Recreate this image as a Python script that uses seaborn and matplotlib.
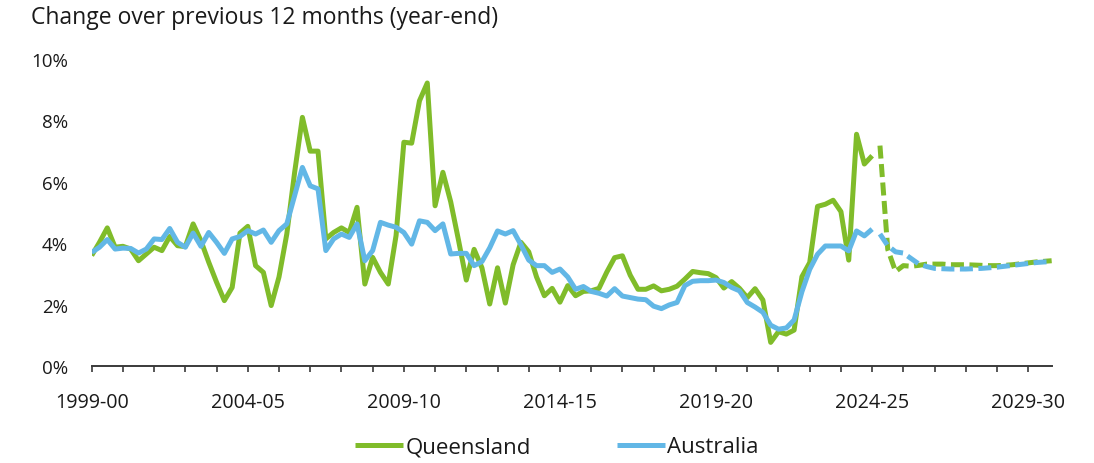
import numpy as np
import pandas as pd
import matplotlib
matplotlib.use("Agg")
import matplotlib.pyplot as plt
from matplotlib.lines import Line2D
import seaborn as sns

# Quarterly year-ended growth (%), actuals from 1999-00 through 2024-25
qld_actual = [
    3.60, 4.03, 4.50, 3.87, 3.90, 3.81, 3.43, 3.65, 3.87, 3.76,
    4.22, 3.92, 3.89, 4.63, 4.08, 3.38, 2.73, 2.13, 2.56, 4.33,
    4.55, 3.27, 3.05, 1.97, 2.90, 4.30, 6.30, 8.10, 7.00, 7.00,
    4.14, 4.35, 4.50, 4.35, 5.17, 2.67, 3.54, 3.05, 2.67, 4.25,
    7.29, 7.26, 8.64, 9.22, 5.22, 6.31, 5.35, 4.10, 2.80, 3.80,
    3.20, 2.02, 3.20, 2.05, 3.30, 4.03, 3.72, 2.90, 2.29, 2.53,
    2.08, 2.62, 2.29, 2.43, 2.45, 2.53, 3.06, 3.53, 3.59, 2.96,
    2.50, 2.50, 2.61, 2.45, 2.50, 2.60, 2.83, 3.08, 3.04, 3.01,
    2.88, 2.54, 2.75, 2.53, 2.23, 2.52, 2.15, 0.77, 1.12, 1.04,
    1.17, 2.91, 3.37, 5.20, 5.27, 5.40, 5.03, 3.45, 7.55, 6.58,
    6.85,
]
aus_actual = [
    3.70, 3.87, 4.12, 3.81, 3.84, 3.83, 3.68, 3.81, 4.14, 4.12,
    4.48, 4.03, 3.87, 4.33, 3.90, 4.35, 4.03, 3.67, 4.14, 4.22,
    4.41, 4.30, 4.43, 4.03, 4.41, 4.63, 5.55, 6.47, 5.87, 5.77,
    3.76, 4.14, 4.30, 4.19, 4.63, 3.43, 3.76, 4.68, 4.59, 4.52,
    4.35, 3.97, 4.73, 4.68, 4.41, 4.63, 3.65, 3.67, 3.67, 3.27,
    3.40, 3.85, 4.40, 4.30, 4.41, 3.95, 3.45, 3.27, 3.27, 3.05,
    3.16, 2.90, 2.50, 2.59, 2.43, 2.37, 2.28, 2.52, 2.28, 2.23,
    2.18, 2.16, 1.95, 1.87, 1.99, 2.07, 2.62, 2.76, 2.78, 2.78,
    2.80, 2.72, 2.56, 2.45, 2.07, 1.92, 1.75, 1.33, 1.20, 1.24,
    1.50, 2.42, 3.15, 3.64, 3.91, 3.91, 3.91, 3.75, 4.40, 4.24,
    4.46,
]

# Forecast path to 2030-31
qld_forecast = [
    7.18, 3.80, 3.08, 3.27, 3.25, 3.28, 3.32, 3.32, 3.32, 3.30,
    3.30, 3.30, 3.29, 3.28, 3.27, 3.27, 3.28, 3.30, 3.33, 3.36,
    3.39, 3.41, 3.43,
]
aus_forecast = [
    4.30, 3.92, 3.72, 3.68, 3.50, 3.32, 3.24, 3.18, 3.17, 3.16,
    3.16, 3.16, 3.17, 3.18, 3.20, 3.22, 3.25, 3.28, 3.31, 3.34,
    3.37, 3.39, 3.40,
]

fy_labels = ["1999-00", "2004-05", "2009-10", "2014-15",
             "2019-20", "2024-25", "2029-30"]
y_ticks = [0, 2, 4, 6, 8, 10]

QLD_GREEN = "#80BC2A"
AUS_BLUE = "#62B7E6"

n_act = len(qld_actual)
q_act = np.arange(n_act)
q_fc = np.arange(n_act, n_act + len(qld_forecast))

frames = [
    pd.DataFrame({"quarter": q_act, "growth": qld_actual, "series": "Queensland", "kind": "actual"}),
    pd.DataFrame({"quarter": q_fc, "growth": qld_forecast, "series": "Queensland", "kind": "forecast"}),
    pd.DataFrame({"quarter": q_act, "growth": aus_actual, "series": "Australia", "kind": "actual"}),
    pd.DataFrame({"quarter": q_fc, "growth": aus_forecast, "series": "Australia", "kind": "forecast"}),
]

sns.set_theme(style="white")
plt.rcParams["font.family"] = ["Open Sans", "DejaVu Sans"]

fig = plt.figure(figsize=(10.94, 4.64), dpi=100)
ax = fig.add_axes([0.0838, 0.209, 0.8775, 0.6616])

lw = 3.6
dash = (0, (2.6, 1.1))
for df, color in [(frames[0], QLD_GREEN), (frames[1], QLD_GREEN),
                  (frames[2], AUS_BLUE), (frames[3], AUS_BLUE)]:
    style = "-" if df["kind"].iloc[0] == "actual" else dash
    sns.lineplot(data=df, x="quarter", y="growth", ax=ax, color=color,
                 linewidth=lw, linestyle=style, legend=False,
                 solid_capstyle="butt", dash_capstyle="butt")

last_q = q_fc[-1]
ax.set_xlim(0, last_q)
ax.set_ylim(0, 10)

major = np.arange(0, last_q + 1, 4)
ax.set_xticks(major)
labels = []
for q in major:
    idx = q // 20
    labels.append(fy_labels[idx] if q % 20 == 0 and idx < len(fy_labels) else "")
ax.set_xticklabels(labels)
ax.set_yticks(y_ticks)
ax.set_yticklabels([f"{v}%" for v in y_ticks])
ax.set_xlabel("")
ax.set_ylabel("")

for side in ["left", "top", "right"]:
    ax.spines[side].set_visible(False)
ax.spines["bottom"].set_color("#3a3a3a")
ax.spines["bottom"].set_linewidth(1.4)

ax.tick_params(axis="x", which="major", direction="out", length=4.5,
               width=1.2, color="#3a3a3a", pad=14, labelsize=14.2,
               labelcolor="#1a1a1a", bottom=True)
ax.tick_params(axis="y", length=0, pad=17, labelsize=13.5, labelcolor="#1a1a1a")
ax.grid(False)

fig.text(31 / 1094, 1 - 18 / 464, "Change over previous 12 months (year-end)",
         fontsize=16.5, color="#1a1a1a", va="center", ha="left")

handles = [Line2D([], [], color=QLD_GREEN, linewidth=lw, solid_capstyle="butt"),
           Line2D([], [], color=AUS_BLUE, linewidth=lw, solid_capstyle="butt")]
fig.legend(handles, ["Queensland", "Australia"], loc="center",
           bbox_to_anchor=(557 / 1094, 1 - 448 / 464), ncol=2, frameon=False,
           fontsize=16, handlelength=2.15, handletextpad=0.1,
           columnspacing=3.9, labelcolor="#1a1a1a")

fig.savefig("out.png", dpi=100)
